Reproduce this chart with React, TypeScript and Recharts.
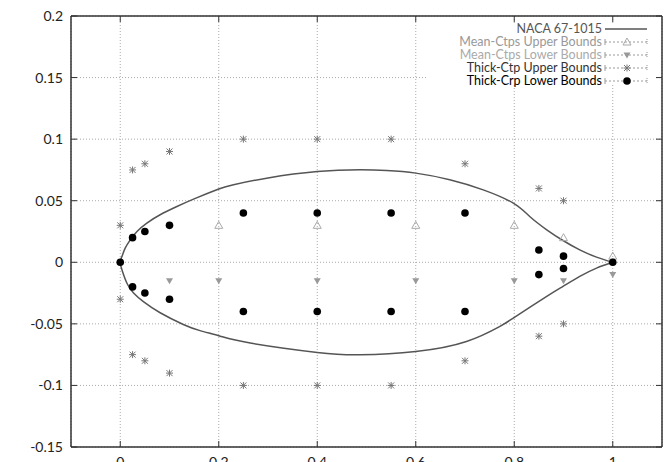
import { ComposedChart, Line, Scatter, XAxis, YAxis, CartesianGrid } from 'recharts';

const FONT = 'Lato, "Open Sans", sans-serif';

const xTicks = [0, 0.2, 0.4, 0.6, 0.8, 1];
const yTicks = [-0.15, -0.1, -0.05, 0, 0.05, 0.1, 0.15, 0.2];

// NACA 67-1015 outline, upper and lower surface (x, y)
const upperX = [0, 0.0034, 0.01, 0.02, 0.034, 0.054, 0.081, 0.115, 0.15, 0.2, 0.23, 0.3, 0.4, 0.487, 0.541, 0.6, 0.669, 0.737, 0.798, 0.832, 0.866, 0.899, 0.933, 0.967, 1.0];
const upperY = [0, 0.0047, 0.0115, 0.018, 0.025, 0.0318, 0.0386, 0.0453, 0.0515, 0.0595, 0.063, 0.0685, 0.0737, 0.0751, 0.0745, 0.0724, 0.067, 0.0588, 0.048, 0.037, 0.0264, 0.0177, 0.0101, 0.0042, 0];
const lowerX = [0, 0.0034, 0.0136, 0.027, 0.047, 0.081, 0.128, 0.162, 0.203, 0.264, 0.4, 0.487, 0.6, 0.703, 0.771, 0.798, 0.866, 0.899, 0.933, 0.967, 1.0];
const lowerY = [0, -0.006, -0.017, -0.025, -0.032, -0.041, -0.0505, -0.0555, -0.06, -0.0656, -0.0732, -0.0751, -0.0724, -0.0643, -0.052, -0.0453, -0.0277, -0.0196, -0.0115, -0.0047, 0];

// Mean-Ctps bounds
const meanUpperX = [0.2, 0.4, 0.6, 0.8, 0.9, 1.0];
const meanUpperY = [0.03, 0.03, 0.03, 0.03, 0.02, 0.005];
const meanLowerX = [0.1, 0.2, 0.4, 0.6, 0.8, 0.9, 1.0];
const meanLowerY = [-0.015, -0.015, -0.015, -0.015, -0.015, -0.015, -0.01];

// Thick-Ctp upper bounds (above and below the chord)
const thickCtpX = [0, 0.025, 0.05, 0.1, 0.25, 0.4, 0.55, 0.7, 0.85, 0.9];
const thickCtpTop = [0.03, 0.075, 0.08, 0.09, 0.1, 0.1, 0.1, 0.08, 0.06, 0.05];
const thickCtpBottom = [-0.03, -0.075, -0.08, -0.09, -0.1, -0.1, -0.1, -0.08, -0.06, -0.05];

// Thick-Crp lower bounds
const thickCrpX = [0, 0.025, 0.05, 0.1, 0.25, 0.4, 0.55, 0.7, 0.85, 0.9, 1.0];
const thickCrpTop = [0, 0.02, 0.025, 0.03, 0.04, 0.04, 0.04, 0.04, 0.01, 0.005, 0];
const thickCrpBottom = [0, -0.02, -0.025, -0.03, -0.04, -0.04, -0.04, -0.04, -0.01, -0.005, 0];

const pts = (xs: number[], ys: number[]) => xs.map((x, i) => ({ x, y: ys[i] }));

// trailing edge -> leading edge along the top, then back along the bottom
const profile = [...pts(upperX, upperY).reverse(), ...pts(lowerX, lowerY).slice(1)];
const meanUpper = pts(meanUpperX, meanUpperY);
const meanLower = pts(meanLowerX, meanLowerY);
const thickCtp = [...pts(thickCtpX, thickCtpTop), ...pts(thickCtpX, thickCtpBottom)];
const thickCrp = [...pts(thickCrpX, thickCrpTop), ...pts(thickCrpX, thickCrpBottom).slice(1, -1)];

const TriUp = ({ cx, cy }: any) => (
  <path d={`M${cx},${cy - 4}L${cx + 4},${cy + 3}L${cx - 4},${cy + 3}Z`} fill="none" stroke="#aaa" strokeWidth={1} />
);
const TriDown = ({ cx, cy }: any) => (
  <path d={`M${cx - 3.5},${cy - 2.5}L${cx + 3.5},${cy - 2.5}L${cx},${cy + 3.5}Z`} fill="#999" />
);
const Star = ({ cx, cy }: any) => (
  <g stroke="#777" strokeWidth={1}>
    <line x1={cx - 3.5} y1={cy} x2={cx + 3.5} y2={cy} />
    <line x1={cx} y1={cy - 3.5} x2={cx} y2={cy + 3.5} />
    <line x1={cx - 3} y1={cy - 3} x2={cx + 3} y2={cy + 3} />
    <line x1={cx - 3} y1={cy + 3} x2={cx + 3} y2={cy - 3} />
  </g>
);
const Dot = ({ cx, cy }: any) => <circle cx={cx} cy={cy} r={3.8} fill="#000" />;

const legendRows = [
  { label: 'NACA 67-1015', color: '#555', kind: 'line' },
  { label: 'Mean-Ctps Upper Bounds', color: '#999', kind: 'up' },
  { label: 'Mean-Ctps Lower Bounds', color: '#aaa', kind: 'down' },
  { label: 'Thick-Ctp Upper Bounds', color: '#333', kind: 'star' },
  { label: 'Thick-Crp Lower Bounds', color: '#000', kind: 'dot' },
];

// key sits below the top tick marks and left of the right-hand ticks
function KeyBox() {
  return (
    <svg width={228} height={61} style={{ position: 'absolute', left: 427, top: 23, background: '#fff', overflow: 'visible' }}>
      {legendRows.map((r, i) => {
        const y = 6 + i * 13;
        const mx = 200;
        return (
          <g key={r.label}>
            <text x={175} y={y} dy="0.35em" textAnchor="end" fill={r.color} fontSize={12.5} fontFamily={FONT}>
              {r.label}
            </text>
            {r.kind === 'line' ? (
              <line x1={178} y1={y} x2={220} y2={y} stroke="#555" strokeWidth={1.3} />
            ) : (
              <g>
                <line x1={178} y1={y} x2={220} y2={y} stroke="#999" strokeWidth={1} strokeDasharray="2 2" />
                <line x1={178} y1={y - 3} x2={178} y2={y + 3} stroke="#999" strokeWidth={1} />
                <line x1={220} y1={y - 3} x2={220} y2={y + 3} stroke="#999" strokeWidth={1} strokeDasharray="1 1" />
                {r.kind === 'up' && <TriUp cx={mx} cy={y} />}
                {r.kind === 'down' && <TriDown cx={mx} cy={y} />}
                {r.kind === 'star' && <Star cx={mx} cy={y} />}
                {r.kind === 'dot' && <Dot cx={mx} cy={y} />}
              </g>
            )}
          </g>
        );
      })}
    </svg>
  );
}

const tickStyle = { fill: '#222', fontSize: 14, fontFamily: FONT };
const blank = () => '';
const frame = { stroke: '#333', strokeWidth: 1.5 };

export default function App() {
  return (
    <div style={{ position: 'fixed', left: 0, top: 0, width: 670, height: 462, overflow: 'hidden', background: '#fff' }}>
      <ComposedChart width={670} height={480} margin={{ top: 15, right: 7, bottom: 0, left: 0 }}>
        <CartesianGrid stroke="#aaa" strokeDasharray="1 2" />
        <XAxis
          type="number"
          dataKey="x"
          domain={[-0.1, 1.1]}
          ticks={xTicks}
          allowDataOverflow
          height={33}
          tickSize={-6}
          tickMargin={16}
          tick={tickStyle}
          axisLine={frame}
          tickLine={{ stroke: '#333' }}
        />
        <XAxis
          xAxisId="top"
          orientation="top"
          type="number"
          dataKey="x"
          domain={[-0.1, 1.1]}
          ticks={xTicks}
          allowDataOverflow
          height={1}
          tickSize={-6}
          tickFormatter={blank}
          axisLine={frame}
          tickLine={{ stroke: '#333' }}
        />
        <YAxis
          type="number"
          domain={[-0.15, 0.2]}
          ticks={yTicks}
          allowDataOverflow
          width={71}
          tickSize={-6}
          tickMargin={14}
          tick={tickStyle}
          axisLine={frame}
          tickLine={{ stroke: '#333' }}
        />
        <YAxis
          yAxisId="right"
          orientation="right"
          type="number"
          domain={[-0.15, 0.2]}
          ticks={yTicks}
          allowDataOverflow
          width={1}
          tickSize={-6}
          tickFormatter={blank}
          axisLine={frame}
          tickLine={{ stroke: '#333' }}
        />
        <Line data={profile} dataKey="y" type="natural" stroke="#555" strokeWidth={1.5} dot={false} isAnimationActive={false} />
        <Scatter data={meanUpper} dataKey="y" shape={TriUp} isAnimationActive={false} />
        <Scatter data={meanLower} dataKey="y" shape={TriDown} isAnimationActive={false} />
        <Scatter data={thickCtp} dataKey="y" shape={Star} isAnimationActive={false} />
        <Scatter data={thickCrp} dataKey="y" shape={Dot} isAnimationActive={false} />
      </ComposedChart>
      <KeyBox />
    </div>
  );
}
